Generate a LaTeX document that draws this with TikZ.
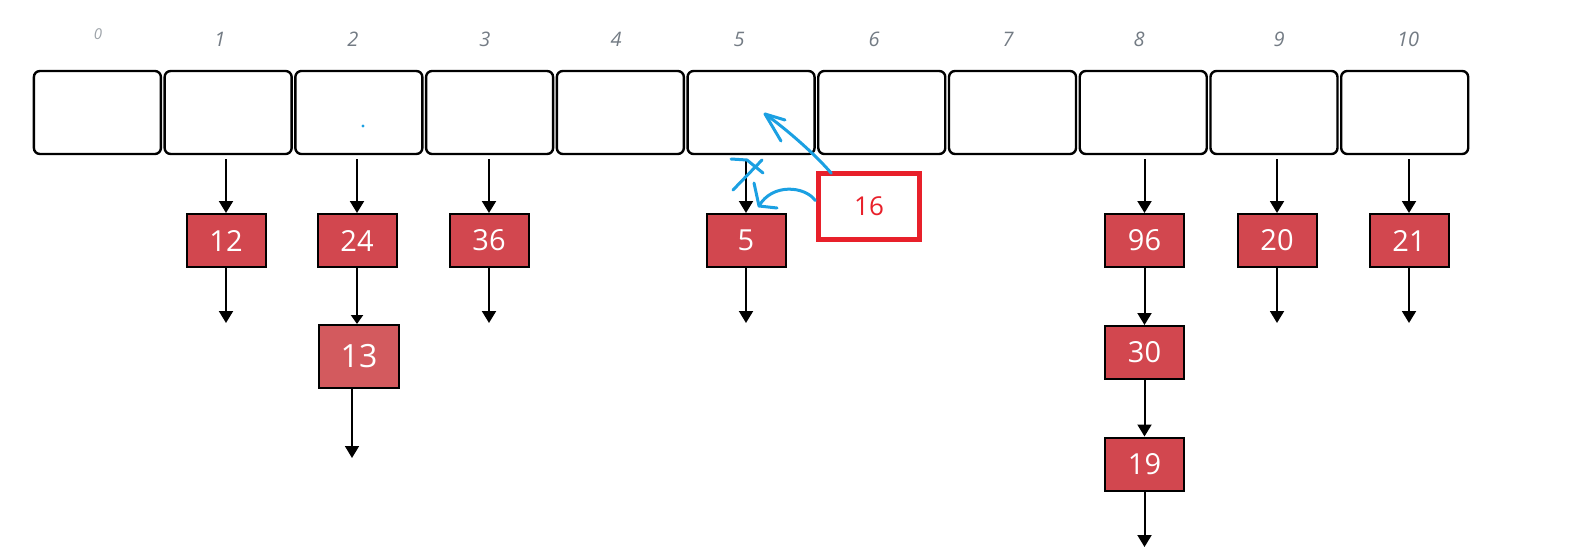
\documentclass[tikz,border=0pt]{standalone}
\usepackage{fontspec}
\setmainfont{Open Sans}
\usetikzlibrary{arrows.meta}
\definecolor{boxred}{HTML}{D2474F}
\definecolor{boxredl}{HTML}{D35A5E}
\definecolor{idxgray}{HTML}{737B84}
\definecolor{hand}{HTML}{1BA0E2}
\definecolor{markred}{HTML}{E8202A}
\begin{document}
\begin{tikzpicture}[x=1pt,y=-1pt,
  cell/.style={draw=black,line width=2.4pt,rounded corners=6pt,minimum width=127pt,minimum height=83pt,inner sep=0pt},
  item/.style={draw=black,line width=2pt,fill=boxred,text=white,minimum width=79pt,minimum height=53pt,inner sep=0pt,font=\fontsize{29}{29}\selectfont},
  idx/.style={text=idxgray,font=\itshape\fontsize{20}{20}\selectfont,inner sep=0pt},
  link/.style={draw=black,line width=2pt,-{Triangle[width=14pt,length=12pt]}},
  handline/.style={draw=hand,line width=3pt,line cap=round,line join=round},
  mark16/.style={draw=markred,line width=4.5pt,minimum width=101pt,minimum height=66pt,inner sep=0pt,text=markred,font=\fontsize{26}{26}\selectfont}]
\useasboundingbox (0,0) rectangle (1594,559);
% bucket cells
\foreach \i in {0,...,10}{
  \node[cell] (c\i) at ({97.4+130.73*\i},112.5) {};
}
% index labels
\node[idx,text=idxgray!70,font=\itshape\fontsize{15}{15}\selectfont] (l0) at (98,34) {0};
\node[idx] (l1) at (220,39) {1};
\node[idx] (l2) at (353,39) {2};
\node[idx] (l3) at (485,39) {3};
\node[idx] (l4) at (616,39) {4};
\node[idx] (l5) at (739,39) {5};
\node[idx] (l6) at (874,39) {6};
\node[idx] (l7) at (1008,39) {7};
\node[idx] (l8) at (1139,39) {8};
\node[idx] (l9) at (1279,39) {9};
\node[idx] (l10) at (1408,39) {10};
% chain items
\node[item] (n12) at (226,240.5) {12};
\node[item] (n24) at (357,240.5) {24};
\node[item,fill=boxredl,minimum width=80pt,minimum height=63pt,font=\fontsize{32}{32}\selectfont] (n13) at (359,356.5) {13};
\node[item] (n36) at (489,240.5) {36};
\node[item] (n5) at (746,240.5) {5};
\node[item] (n96) at (1144.5,240.5) {96};
\node[item] (n30) at (1144.5,352.5) {30};
\node[item] (n19) at (1144.5,464) {19};
\node[item] (n20) at (1277,240.5) {20};
\node[item] (n21) at (1409,240.5) {21};
% free ends
\coordinate (e12) at (226,323);
\coordinate (e13) at (352,458);
\coordinate (e36) at (489,323);
\coordinate (e5) at (746,323);
\coordinate (e19) at (1144.5,547);
\coordinate (e20) at (1277,323);
\coordinate (e21) at (1409,323);
% links from cells
\foreach \c/\n in {c1/n12,c2/n24,c3/n36,c5/n5,c8/n96,c9/n20,c10/n21}{
  \draw[link] (\n.north |- \c.south) ++(0,4) -- (\n.north);
}
% chain links
\draw[link,-{Triangle[width=12pt,length=9pt]}] (n24.south) -- (n24.south |- n13.north);
\draw[link] (n12.south) -- (e12);
\draw[link,line width=1.6pt] (n13.south -| e13) -- (e13);
\draw[link] (n36.south) -- (e36);
\draw[link] (n5.south) -- (e5);
\draw[link] (n96.south) -- (n30.north);
\draw[link] (n30.south) -- (n19.north);
\draw[link] (n19.south) -- (e19);
\draw[link] (n20.south) -- (e20);
\draw[link] (n21.south) -- (e21);
% new element
\node[mark16] (n16) at (869,206.5) {16};
% hand-drawn annotations
\coordinate (h1) at (765,114);
\draw[handline] (n16.north west) ++(15,2) .. controls (816,155) and (785,128) .. (h1);
\draw[handline] (785,120) -- (h1) -- (781,141);
\coordinate (h2) at (759,206);
\draw[handline] (n16.west) ++(-1,-6) .. controls (805,186) and (772,183) .. (h2);
\draw[handline] (754,183) -- (h2) -- (777,208);
\draw[handline] (731,159) -- (747,160) -- (763,173);
\draw[handline] (762,160) -- (733,190);
\fill[hand] (363,126) circle (1.6);
\end{tikzpicture}
\end{document}
